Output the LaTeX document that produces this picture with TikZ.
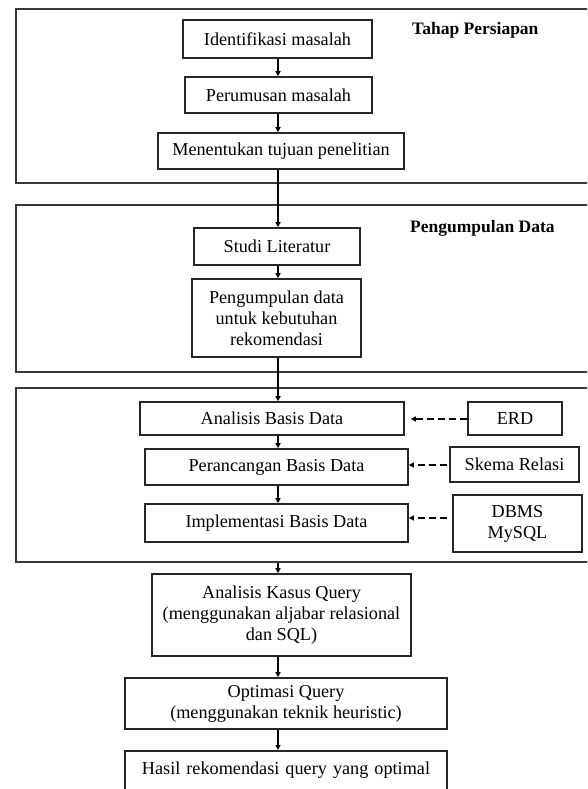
\documentclass[tikz,border=0pt]{standalone}
\usepackage{fontspec}
\setmainfont{Liberation Serif}
\usetikzlibrary{arrows.meta}
\begin{document}
\begin{tikzpicture}[x=1pt,y=-1pt,
  frame/.style={draw=black!78, line width=2pt, minimum width=604pt, inner sep=0pt},
  box/.style={draw=black!85, line width=1.6pt, inner sep=0pt, align=center, font=\fontsize{18.2}{21}\selectfont},
  lbl/.style={anchor=west, font=\fontsize{17.5}{21}\selectfont\bfseries, inner sep=0pt},
  arr/.style={line width=1.4pt, -{Triangle[length=5pt,width=5pt]}},
  darr/.style={line width=1.4pt, dash pattern=on 7pt off 4pt, -{Triangle[length=5pt,width=5pt]}}
]
\useasboundingbox (0,0) rectangle (587,789);
\clip (0,0) rectangle (587,789);

% frames
\node[frame, minimum height=174pt] (f1) at (318,96) {};
\node[frame, minimum height=167pt] (f2) at (318,288.5) {};
\node[frame, minimum height=174pt] (f3) at (318,475) {};

% labels
\node[lbl] (t1) at (412,30) {Tahap Persiapan};
\node[lbl] (t2) at (410,228) {Pengumpulan Data};

% boxes
\node[box, minimum width=189pt, minimum height=38pt] (b1) at (277.5,39) {Identifikasi masalah};
\node[box, minimum width=187pt, minimum height=36pt] (b2) at (278.5,95) {Perumusan masalah};
\node[box, minimum width=246pt, minimum height=36pt] (b3) at (281,151) {Menentukan tujuan penelitian};
\node[box, minimum width=166pt, minimum height=37pt] (b4) at (277,246.5) {Studi Literatur};
\node[box, minimum width=169pt, minimum height=78pt] (b5) at (276.5,318) {Pengumpulan data\\untuk kebutuhan\\rekomendasi};
\node[box, minimum width=264pt, minimum height=33pt] (b6) at (272,418.5) {Analisis Basis Data};
\node[box, minimum width=263pt, minimum height=36pt] (b7) at (276.5,467) {Perancangan Basis Data};
\node[box, minimum width=263pt, minimum height=38pt] (b8) at (276.5,523) {Implementasi Basis Data};
\node[box, minimum width=94pt, minimum height=33pt] (e1) at (515,418.5) {ERD};
\node[box, minimum width=129pt, minimum height=35pt] (e2) at (514.5,464.5) {Skema Relasi};
\node[box, minimum width=129pt, minimum height=57pt] (e3) at (517.5,523.5) {DBMS\\MySQL};
\node[box, minimum width=259pt, minimum height=82pt] (b9) at (281.5,615) {Analisis Kasus Query\\(menggunakan aljabar relasional\\dan SQL)};
\node[box, minimum width=322pt, minimum height=51pt] (b10) at (286,703.5) {Optimasi Query\\(menggunakan teknik heuristic)};
\node[box, text width=322pt, text height=24pt, text depth=56pt, anchor=north] (b11) at (286,750) {Hasil rekomendasi query yang optimal};

% connectors
\coordinate (ax) at (278,0);
\coordinate (ya) at (0,419);
\coordinate (yb) at (0,465);
\coordinate (yc) at (0,518);
\draw[arr] (b1.south -| ax) -- (b2.north -| ax);
\draw[arr] (b2.south -| ax) -- (b3.north -| ax);
\draw[arr] (b3.south -| ax) -- (b4.north -| ax);
\draw[arr] (b4.south -| ax) -- (b5.north -| ax);
\draw[arr] (b5.south -| ax) -- (b6.north -| ax);
\draw[arr] (b6.south -| ax) -- (b7.north -| ax);
\draw[arr] (b7.south -| ax) -- (b8.north -| ax);
\draw[arr] (f3.south -| ax) -- (b9.north -| ax);
\draw[arr] (b9.south -| ax) -- (b10.north -| ax);
\draw[arr] (b10.south -| ax) -- (b11.north -| ax);

\draw[darr] (e1.west |- ya) -- ([xshift=6pt]b6.east |- ya);
\draw[darr] ([xshift=-2pt]e2.west |- yb) -- (b7.east |- yb);
\draw[darr] ([xshift=-5pt]e3.west |- yc) -- (b8.east |- yc);
\end{tikzpicture}
\end{document}
